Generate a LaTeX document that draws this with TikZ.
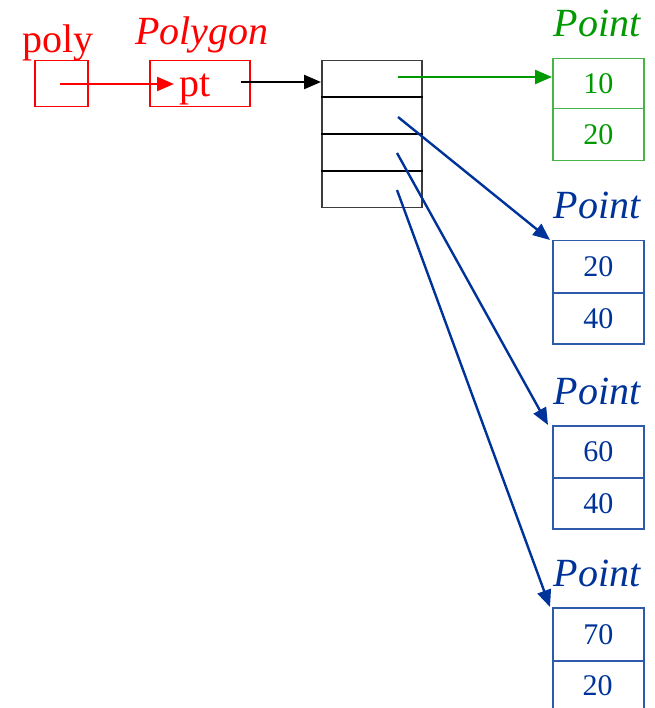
\documentclass[tikz,border=0pt]{standalone}
\usepackage{fontspec}
\setmainfont{Liberation Serif}
\usetikzlibrary{arrows.meta,calc}
\definecolor{myred}{RGB}{255,0,0}
\definecolor{mygreen}{RGB}{0,153,0}
\definecolor{mygreenbox}{RGB}{70,180,70}
\definecolor{myblue}{RGB}{0,51,153}
\definecolor{mybluebox}{RGB}{45,90,170}
\definecolor{mygray}{RGB}{60,60,60}
\tikzset{
  lbl/.style={font=\fontsize{40}{48}\selectfont, anchor=base, inner sep=0pt},
  num/.style={font=\fontsize{30}{36}\selectfont},
  cell/.style={draw, rectangle, inner sep=0pt, anchor=north west, line width=1.5pt},
  arr/.style={line width=2.4pt, -{Triangle[length=17pt,width=14pt]}},
  pcell/.style={cell, minimum width=91pt, minimum height=52pt, num},
  acell/.style={cell, draw=black, minimum width=100pt, minimum height=37pt},
}
\begin{document}
\begin{tikzpicture}[x=1pt,y=-1pt]
\useasboundingbox (0,0) rectangle (654,708);
% left red boxes
\node[cell, draw=myred, minimum width=53pt, minimum height=46pt] (poly) at (34,60) {};
\node[cell, draw=myred, minimum width=100pt, minimum height=46pt] (pg) at (149,60) {};
\node[lbl, text=myred] (polylbl) at (58,53) {poly};
\node[lbl, text=myred] (pglbl) at (202,45) {\itshape Polygon};
\node[lbl, text=myred] (pt) at (195,97) {pt};
% array
\node[acell, draw=mygray] (a1) at (321,60) {};
\node[acell, draw=mygray] (a2) at (321,97) {};
\node[acell, draw=mygray] (a3) at (321,134) {};
\node[acell, draw=mygray, minimum height=36pt] (a4) at (321,171) {};
\draw[line width=2pt] (a2.north west) -- (a2.north east)
  (a3.north west) -- (a3.north east) (a4.north west) -- (a4.north east);
% Point boxes
\node[lbl, text=mygreen] (l1) at (597,37) {\itshape Point};
\node[pcell, draw=mygreenbox, text=mygreen, minimum height=50pt] (p1a) at (552,58) {10};
\node[pcell, draw=mygreenbox, text=mygreen, minimum height=52pt] (p1b) at (552,108) {20};
\node[lbl, text=myblue] (l2) at (597,219) {\itshape Point};
\node[pcell, draw=mybluebox, text=myblue] (p2a) at (552,240) {20};
\node[pcell, draw=mybluebox, text=myblue, minimum height=51pt] (p2b) at (552,292) {40};
\node[lbl, text=myblue] (l3) at (597,404) {\itshape Point};
\node[pcell, draw=mybluebox, text=myblue] (p3a) at (552,425) {60};
\node[pcell, draw=mybluebox, text=myblue, minimum height=51pt] (p3b) at (552,477) {40};
\node[lbl, text=myblue] (l4) at (597,586) {\itshape Point};
\node[pcell, draw=mybluebox, text=myblue, minimum height=53pt] (p4a) at (552,607) {70};
\node[pcell, draw=mybluebox, text=myblue, minimum height=56pt] (p4b) at (552,660) {};
\node[num, text=myblue, anchor=center] (p4bt) at (597.5,686) {20};
% connector ends
\coordinate (s0) at (60,84);
\coordinate (e0) at (174,84);
\coordinate (sb) at (241,82);
\coordinate (s1) at (398,77);
\coordinate (s2) at (398,117);
\coordinate (s3) at (397,153);
\coordinate (s4) at (397,190);
\draw[arr, myred] (s0) -- (e0);
\draw[arr, black] (sb) -- (sb -| a1.west);
\draw[arr, mygreen] (s1) -- (s1 -| p1a.west);
\draw[arr, myblue] (s2) -- ($(p2a.north west)+(-2,0)$);
\draw[arr, myblue] (s3) -- ($(p3a.north west)+(-4,0)$);
\draw[arr, myblue] (s4) -- ($(p4a.north west)+(-2,0)$);
\end{tikzpicture}
\end{document}
